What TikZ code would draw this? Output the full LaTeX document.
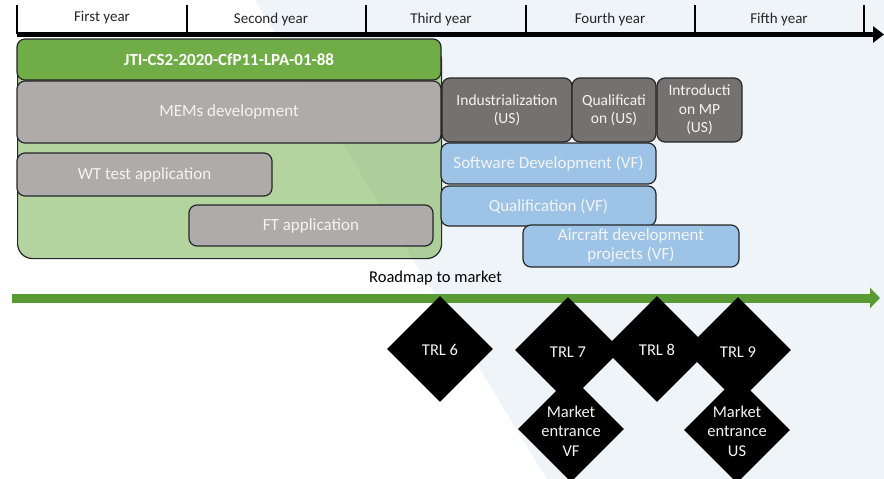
\documentclass[tikz,border=0pt]{standalone}
\usepackage{fontspec}
\setmainfont{Carlito}
\usetikzlibrary{shapes.geometric,arrows.meta}
\definecolor{bgblue}{HTML}{EEF4F8}
\definecolor{hdrgreen}{HTML}{70AD47}
\definecolor{lightgrey}{HTML}{AFABAB}
\definecolor{darkgrey}{HTML}{767171}
\definecolor{skyblue}{HTML}{9DC3E6}
\definecolor{bordercol}{HTML}{262626}
\definecolor{boxtext}{HTML}{F4F4F4}
\definecolor{arrowgreen}{HTML}{5A9A34}
\definecolor{labeltext}{HTML}{262626}
\tikzset{
  box/.style={draw=bordercol, line width=1.2pt, rounded corners=8pt, inner sep=0pt,
    outer sep=0pt, align=center, text=boxtext, anchor=north west,
    font=\fontsize{17}{19}\selectfont},
  smallbox/.style={box, font=\fontsize{15.5}{18.5}\selectfont},
  yearlabel/.style={text=labeltext, font=\fontsize{15}{17}\selectfont, inner sep=0pt},
  tick/.style={draw=black, line width=1.8pt},
  dia/.style={diamond, fill=black, minimum width=106pt, minimum height=106pt, inner sep=0pt},
  diatext/.style={text=boxtext, align=center, font=\fontsize{16.5}{19.5}\selectfont, inner sep=0pt}
}
\begin{document}
\begin{tikzpicture}[x=1pt,y=-1pt]
\useasboundingbox (0,0) rectangle (884,479);
\fill[white] (0,0) rectangle (884,479);
\fill[bgblue] (255,0) -- (884,0) -- (884,479) -- (547,479) -- cycle;

% top time axis
\coordinate (axs) at (17,34.5);
\coordinate (axe) at (884,34.5);
\draw[line width=5pt, -{Triangle[length=11pt,width=16pt]}] (axs) -- (axe);
\foreach \x in {17,187,366,526,695,864} {\draw[tick] (\x,5) -- (\x,34);}
\node[yearlabel] (y1) at (102,18) {First year};
\node[yearlabel] (y2) at (271,20) {Second year};
\node[yearlabel] (y3) at (441,20) {Third year};
\node[yearlabel] (y4) at (610,20) {Fourth year};
\node[yearlabel] (y5) at (779,20) {Fifth year};

% green container
\node[draw=bordercol, line width=1.2pt, rounded corners=15pt, fill=hdrgreen, fill opacity=0.52,
  minimum width=424pt, minimum height=213pt, anchor=north west, inner sep=0pt] (cont) at (17,45) {};

\node[box, fill=hdrgreen, minimum width=424pt, minimum height=41pt,
  font=\fontsize{17}{19}\selectfont\bfseries, text=white] (hdr) at (17,39) {JTI-CS2-2020-CfP11-LPA-01-88};
\node[box, fill=lightgrey, minimum width=424pt, minimum height=62pt] (mems) at (17,81) {MEMs development};
\node[box, fill=lightgrey, minimum width=255pt, minimum height=43pt] (wt) at (17,153) {WT test application};
\node[box, fill=lightgrey, minimum width=244pt, minimum height=41pt] (ft) at (189,205) {FT application};

\node[smallbox, fill=darkgrey, minimum width=130pt, minimum height=64pt] (ind) at (442,78) {Industrialization\\(US)};
\node[smallbox, fill=darkgrey, minimum width=84pt, minimum height=64pt] (qus) at (572,78) {Qualificati\\on (US)};
\node[smallbox, fill=darkgrey, minimum width=85pt, minimum height=64pt] (intro) at (657,78) {Introducti\\on MP\\(US)};

\node[box, fill=skyblue, minimum width=215pt, minimum height=41pt] (sw) at (441,143) {Software Development (VF)};
\node[box, fill=skyblue, minimum width=215pt, minimum height=40pt] (qvf) at (441,186) {Qualification (VF)};
\node[box, fill=skyblue, minimum width=216pt, minimum height=42pt] (air) at (523,225) {Aircraft development\\projects (VF)};

% roadmap
\node[text=black, font=\fontsize{16.5}{19}\selectfont, inner sep=0pt] (road) at (435.5,278) {Roadmap to market};
\coordinate (rms) at (12,298);
\coordinate (rme) at (880,298);
\draw[arrowgreen, line width=9pt, -{Triangle[length=10pt,width=20pt]}] (rms) -- (rme);

% diamonds
\node[dia] (d6) at (440,349) {};
\node[dia] (d7) at (568,350) {};
\node[dia] (d8) at (657,349) {};
\node[dia] (d9) at (738,350) {};
\node[dia] (mvf) at (571,429) {};
\node[dia] (mus) at (737,430) {};
\node[diatext] at ([yshift=-1pt]d6.center) {TRL 6};
\node[diatext] at ([yshift=-2pt]d7.center) {TRL 7};
\node[diatext] at ([yshift=-1pt]d8.center) {TRL 8};
\node[diatext] at ([yshift=-2pt]d9.center) {TRL 9};
\node[diatext] at ([yshift=-2pt]mvf.center) {Market\\entrance\\VF};
\node[diatext] at ([yshift=-1pt]mus.center) {Market\\entrance\\US};
\end{tikzpicture}
\end{document}
